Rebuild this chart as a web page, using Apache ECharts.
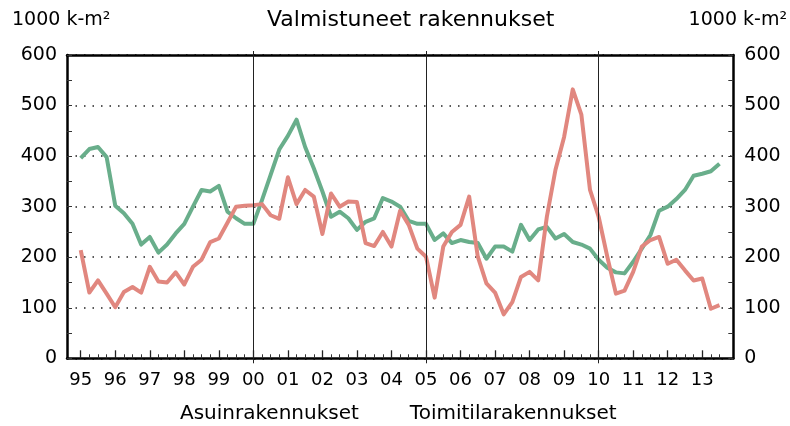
<!DOCTYPE html>
<html>
<head>
<meta charset="utf-8">
<script src="https://cdn.jsdelivr.net/npm/echarts@6/dist/echarts.min.js"></script>
<style>html,body{margin:0;padding:0;background:#fff}#c{width:790px;height:426px}</style>
</head>
<body>
<div id="c"></div>
<script>
// Year tick labels (1995–2013); data is quarterly, 1995Q1 .. 2013Q3
var yearLabels = ['95','96','97','98','99','00','01','02','03','04','05','06','07','08','09','10','11','12','13'];
var seriesNames = ['Asuinrakennukset', 'Toimitilarakennukset'];
var dividerYears = ['00', '05', '10'];
var yTicks = [0, 100, 200, 300, 400, 500, 600];

var asuin = [396,414,418,398,302,287,266,225,240,209,225,247,266,300,333,330,341,290,277,266,
  266,313,363,413,440,472,418,376,330,280,290,277,254,270,277,317,310,300,272,266,
  266,234,247,228,234,230,228,197,221,221,211,264,234,255,260,237,246,230,225,217,
  195,179,170,168,191,217,244,292,300,315,333,361,365,370,385];
var toimitila = [214,130,154,128,101,131,141,130,181,152,150,170,146,181,195,230,237,268,300,302,
  303,305,283,276,358,305,333,320,246,326,300,310,309,228,222,250,221,292,264,217,
  201,120,221,250,264,320,201,148,130,87,111,161,171,154,280,373,438,532,482,333,
  280,201,128,134,171,221,234,240,187,195,174,154,158,98,105];

// quarter categories
var categories = [];
yearLabels.forEach(function (y) { for (var q = 1; q <= 4; q++) categories.push(y + 'Q' + q); });
categories = categories.slice(0, asuin.length);

var yearIdx = yearLabels.map(function (y, i) { return i * 4; });
var minorIdx = categories.map(function (c, i) { return i; }).filter(function (i) { return i % 4 !== 0; });
var dividerIdx = dividerYears.map(function (y) { return yearLabels.indexOf(y) * 4; });

function pairs(arr) { return arr.map(function (v, i) { return [i, v]; }); }

var FONT = 'DejaVu Sans';
var xMin = -1.59, xMax = 75.6;
function xBase(extra) {
  var o = { type: 'value', min: xMin, max: xMax, gridIndex: 0, splitLine: { show: false },
    axisLine: { show: false, onZero: false }, axisLabel: { show: false }, axisTick: { show: false } };
  for (var k in extra) o[k] = extra[k];
  return o;
}

var chart = echarts.init(document.getElementById('c'), null, { renderer: 'canvas' });
chart.setOption({
  animation: false,
  backgroundColor: '#fff',
  title: {
    text: 'Valmistuneet rakennukset', left: 267, top: 9, padding: 0,
    textStyle: { fontFamily: FONT, fontSize: 22, fontWeight: 'normal', color: '#000' }
  },
  graphic: [
    { type: 'text', left: 12, top: 11, style: { text: '1000 k-m²', fontFamily: FONT, fontSize: 19, fill: '#000' } },
    { type: 'text', right: 3, top: 11, style: { text: '1000 k-m²', fontFamily: FONT, fontSize: 19, fill: '#000' } }
  ],
  legend: {
    data: seriesNames, left: 175, top: 404, icon: 'none', itemWidth: 0, itemHeight: 0, itemGap: 46,
    padding: 0, selectedMode: false,
    textStyle: { fontFamily: FONT, fontSize: 20, color: '#000' }
  },
  grid: { left: 67, right: 56.7, top: 55, bottom: 67.7, containLabel: false },
  xAxis: [
    xBase({ position: 'bottom',
      axisLine: { show: true, onZero: false, lineStyle: { color: '#000', width: 2.5 } },
      axisTick: { show: true, inside: true, length: 4, customValues: minorIdx, lineStyle: { color: '#333', width: 1 } },
      axisLabel: { show: true, customValues: yearIdx, margin: 13,
        formatter: function (v) { return yearLabels[Math.round(v) / 4]; },
        fontFamily: FONT, fontSize: 18, color: '#000' } }),
    xBase({ position: 'bottom',
      axisTick: { show: true, inside: true, length: 8, customValues: yearIdx, lineStyle: { color: '#222', width: 1.3 } } }),
    xBase({ position: 'top',
      axisLine: { show: true, onZero: false, lineStyle: { color: '#000', width: 2.5 } },
      axisTick: { show: true, inside: false, length: 4, customValues: dividerIdx, lineStyle: { color: '#222', width: 1 } } }),
    xBase({ position: 'bottom',
      axisTick: { show: true, inside: false, length: 5, customValues: dividerIdx, lineStyle: { color: '#222', width: 1 } } })
  ],
  yAxis: [
    { type: 'value', position: 'left', min: 0, max: 600, interval: 100,
      axisLine: { show: true, onZero: false, lineStyle: { color: '#000', width: 2.5 } },
      axisTick: { show: true, inside: true, length: 5, lineStyle: { color: '#333' } },
      minorTick: { show: true, splitNumber: 2, length: 5, lineStyle: { color: '#333', width: 1 } },
      axisLabel: { margin: 10, fontFamily: FONT, fontSize: 19, color: '#000',
        customValues: yTicks },
      splitLine: { show: true, lineStyle: { color: '#222', width: 1.5, type: [1.5, 7] } } },
    { type: 'value', position: 'right', min: 0, max: 600, interval: 100,
      axisLine: { show: true, onZero: false, lineStyle: { color: '#000', width: 2.5 } },
      axisTick: { show: true, inside: true, length: 5, lineStyle: { color: '#333' } },
      minorTick: { show: true, splitNumber: 2, length: 5, lineStyle: { color: '#333', width: 1 } },
      axisLabel: { margin: 11, fontFamily: FONT, fontSize: 19, color: '#000' },
      splitLine: { show: false } }
  ],
  series: [
    { name: seriesNames[0], type: 'line', xAxisIndex: 0, yAxisIndex: 0, data: pairs(asuin),
      showSymbol: false, symbol: 'none', color: '#69ae8b',
      lineStyle: { color: '#69ae8b', width: 4, join: 'round' }, z: 3,
      markLine: { silent: true, symbol: 'none', label: { show: false },
        lineStyle: { color: '#222', width: 1, type: 'solid' },
        data: dividerIdx.map(function (i) { return { xAxis: i }; }) } },
    { name: seriesNames[1], type: 'line', xAxisIndex: 0, yAxisIndex: 0, data: pairs(toimitila),
      showSymbol: false, symbol: 'none', color: '#e1877f',
      lineStyle: { color: '#e1877f', width: 4, join: 'round' }, z: 4 }
  ]
});
</script>
</body>
</html>
